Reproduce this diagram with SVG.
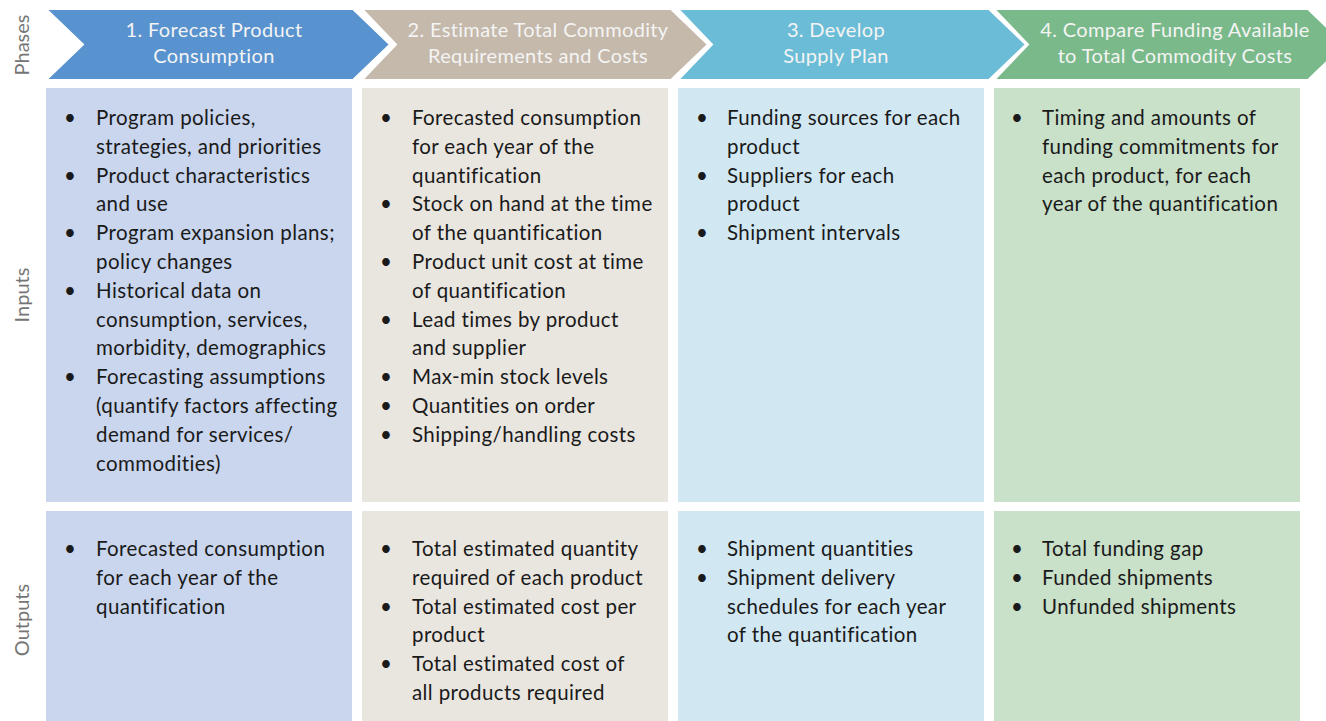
<svg xmlns="http://www.w3.org/2000/svg" width="1326" height="721" viewBox="0 0 1326 721">
<style>
.lbl{font-family:Lato,"Open Sans","Liberation Sans",sans-serif;font-size:20px;fill:#757575;text-anchor:middle}
.hd{font-family:Lato,"Open Sans","Liberation Sans",sans-serif;font-size:20px;letter-spacing:0.35px;fill:#F4F4F4;text-anchor:middle}
.tx{font-family:Lato,"Open Sans","Liberation Sans",sans-serif;font-size:20.5px;letter-spacing:0.4px;fill:#1A1A1A}
.chev{stroke:#FFFFFF;stroke-width:2}
</style>
<rect width="1326" height="721" fill="#FFFFFF"/>
<g id="row-labels">
<text class="lbl" transform="translate(29,45) rotate(-90)">Phases</text>
<text class="lbl" transform="translate(29,295) rotate(-90)">Inputs</text>
<text class="lbl" transform="translate(29,620) rotate(-90)">Outputs</text>
</g>
<g id="phase1">
<polygon class="chev" fill="#5892CF" points="46,9 353,9 390,44.5 353,80 46,80 83,44.5"/>
<text class="hd" x="214" y="37">1. Forecast Product</text>
<text class="hd" x="214" y="63">Consumption</text>
</g>
<g id="phase2">
<polygon class="chev" fill="#C5B9AB" points="362,9 671,9 708,44.5 671,80 362,80 396,44.5"/>
<text class="hd" x="538" y="37">2. Estimate Total Commodity</text>
<text class="hd" x="538" y="63">Requirements and Costs</text>
</g>
<g id="phase3">
<polygon class="chev" fill="#6BBCD6" points="678,9 989,9 1026,44.5 989,80 678,80 712,44.5"/>
<text class="hd" x="836" y="37">3. Develop</text>
<text class="hd" x="836" y="63">Supply Plan</text>
</g>
<g id="phase4">
<polygon class="chev" fill="#79B98A" points="994,9 1308,9 1345,44.5 1308,80 994,80 1028,44.5"/>
<text class="hd" x="1175" y="37">4. Compare Funding Available</text>
<text class="hd" x="1175" y="63">to Total Commodity Costs</text>
</g>
<g id="inputs1">
<rect x="46" y="88" width="306" height="414" fill="#C9D6EE"/>
<text class="tx">
<tspan x="64" y="125">•</tspan><tspan x="96" y="125">Program policies,</tspan>
<tspan x="96" y="153.8">strategies, and priorities</tspan>
<tspan x="64" y="182.6">•</tspan><tspan x="96" y="182.6">Product characteristics</tspan>
<tspan x="96" y="211.4">and use</tspan>
<tspan x="64" y="240.2">•</tspan><tspan x="96" y="240.2">Program expansion plans;</tspan>
<tspan x="96" y="269">policy changes</tspan>
<tspan x="64" y="297.8">•</tspan><tspan x="96" y="297.8">Historical data on</tspan>
<tspan x="96" y="326.6">consumption, services,</tspan>
<tspan x="96" y="355.4">morbidity, demographics</tspan>
<tspan x="64" y="384.2">•</tspan><tspan x="96" y="384.2">Forecasting assumptions</tspan>
<tspan x="96" y="413">(quantify factors affecting</tspan>
<tspan x="96" y="441.8">demand for services/</tspan>
<tspan x="96" y="470.6">commodities)</tspan>
</text>
</g>
<g id="inputs2">
<rect x="362" y="88" width="306" height="414" fill="#E9E6E0"/>
<text class="tx">
<tspan x="380" y="125">•</tspan><tspan x="412" y="125">Forecasted consumption</tspan>
<tspan x="412" y="153.8">for each year of the</tspan>
<tspan x="412" y="182.6">quantification</tspan>
<tspan x="380" y="211.4">•</tspan><tspan x="412" y="211.4">Stock on hand at the time</tspan>
<tspan x="412" y="240.2">of the quantification</tspan>
<tspan x="380" y="269">•</tspan><tspan x="412" y="269">Product unit cost at time</tspan>
<tspan x="412" y="297.8">of quantification</tspan>
<tspan x="380" y="326.6">•</tspan><tspan x="412" y="326.6">Lead times by product</tspan>
<tspan x="412" y="355.4">and supplier</tspan>
<tspan x="380" y="384.2">•</tspan><tspan x="412" y="384.2">Max-min stock levels</tspan>
<tspan x="380" y="413">•</tspan><tspan x="412" y="413">Quantities on order</tspan>
<tspan x="380" y="441.8">•</tspan><tspan x="412" y="441.8">Shipping/handling costs</tspan>
</text>
</g>
<g id="inputs3">
<rect x="678" y="88" width="306" height="414" fill="#D1E8F3"/>
<text class="tx">
<tspan x="696" y="125">•</tspan><tspan x="727" y="125">Funding sources for each</tspan>
<tspan x="727" y="153.8">product</tspan>
<tspan x="696" y="182.6">•</tspan><tspan x="727" y="182.6">Suppliers for each</tspan>
<tspan x="727" y="211.4">product</tspan>
<tspan x="696" y="240.2">•</tspan><tspan x="727" y="240.2">Shipment intervals</tspan>
</text>
</g>
<g id="inputs4">
<rect x="994" y="88" width="306" height="414" fill="#C9E0C9"/>
<text class="tx">
<tspan x="1011" y="125">•</tspan><tspan x="1042" y="125">Timing and amounts of</tspan>
<tspan x="1042" y="153.8">funding commitments for</tspan>
<tspan x="1042" y="182.6">each product, for each</tspan>
<tspan x="1042" y="211.4">year of the quantification</tspan>
</text>
</g>
<g id="outputs1">
<rect x="46" y="511" width="306" height="210" fill="#C9D6EE"/>
<text class="tx">
<tspan x="64" y="556">•</tspan><tspan x="96" y="556">Forecasted consumption</tspan>
<tspan x="96" y="584.8">for each year of the</tspan>
<tspan x="96" y="613.6">quantification</tspan>
</text>
</g>
<g id="outputs2">
<rect x="362" y="511" width="306" height="210" fill="#E9E6E0"/>
<text class="tx">
<tspan x="380" y="556">•</tspan><tspan x="412" y="556">Total estimated quantity</tspan>
<tspan x="412" y="584.8">required of each product</tspan>
<tspan x="380" y="613.6">•</tspan><tspan x="412" y="613.6">Total estimated cost per</tspan>
<tspan x="412" y="642.4">product</tspan>
<tspan x="380" y="671.2">•</tspan><tspan x="412" y="671.2">Total estimated cost of</tspan>
<tspan x="412" y="700">all products required</tspan>
</text>
</g>
<g id="outputs3">
<rect x="678" y="511" width="306" height="210" fill="#D1E8F3"/>
<text class="tx">
<tspan x="696" y="556">•</tspan><tspan x="727" y="556">Shipment quantities</tspan>
<tspan x="696" y="584.8">•</tspan><tspan x="727" y="584.8">Shipment delivery</tspan>
<tspan x="727" y="613.6">schedules for each year</tspan>
<tspan x="727" y="642.4">of the quantification</tspan>
</text>
</g>
<g id="outputs4">
<rect x="994" y="511" width="306" height="210" fill="#C9E0C9"/>
<text class="tx">
<tspan x="1011" y="556">•</tspan><tspan x="1042" y="556">Total funding gap</tspan>
<tspan x="1011" y="584.8">•</tspan><tspan x="1042" y="584.8">Funded shipments</tspan>
<tspan x="1011" y="613.6">•</tspan><tspan x="1042" y="613.6">Unfunded shipments</tspan>
</text>
</g>
<g id="connectors"/>
</svg>
